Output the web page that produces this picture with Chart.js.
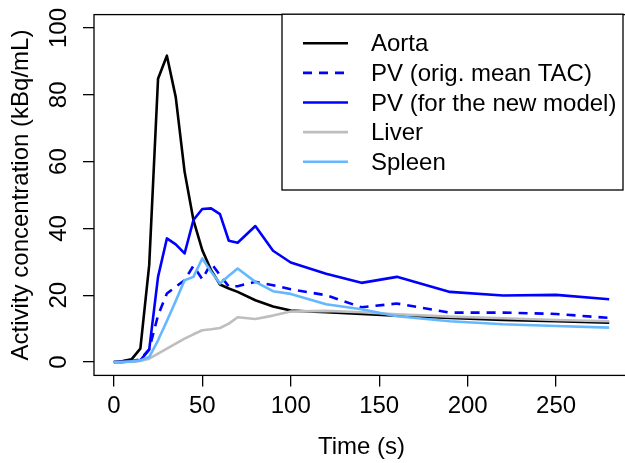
<!DOCTYPE html>
<html>
<head>
<meta charset="utf-8">
<script src="https://cdn.jsdelivr.net/npm/chart.js@4/dist/chart.umd.min.js"></script>
<style>
  html, body { margin: 0; padding: 0; background: #fff; overflow: hidden; width: 625px; height: 463px; }
  canvas { display: block; }
</style>
</head>
<body>
<canvas id="c" width="640" height="463"></canvas>
<script>
// ---- data ----
const times = [0, 5, 10, 15, 20, 25, 30, 35, 40, 45, 50, 55, 60, 65, 70, 80, 90, 100, 120, 140, 160, 190, 220, 250, 280];
const aorta = [0, 0.3, 0.8, 4, 29, 84.8, 91.7, 79.3, 57, 42.5, 33.5, 27.5, 23.2, 22, 21, 18.5, 16.6, 15.4, 14.9, 14.4, 13.9, 13.2, 12.6, 12.2, 11.8];
const pvOrig = [0, 0, 0.3, 0.8, 3.8, 14, 20.5, 22.5, 24.5, 28.8, 24.8, 29.6, 26, 22.6, 22.7, 24, 23, 21.8, 20, 16.4, 17.5, 14.8, 14.8, 14.4, 13.2];
const pvNew = [0, 0, 0.2, 0.5, 3.7, 25.5, 37, 35.2, 32.5, 42.5, 45.8, 46, 44.3, 36.3, 35.7, 40.7, 33.3, 29.8, 26.4, 23.7, 25.5, 21, 19.9, 20.1, 18.8];
const liver = [0, 0, 0.1, 0.3, 1, 2.5, 4, 5.5, 7, 8.3, 9.5, 9.8, 10.2, 11.5, 13.4, 12.9, 13.9, 15.1, 15.3, 14.9, 14.3, 13.6, 13.1, 12.6, 12.2];
const spleen = [0, 0, 0.2, 0.5, 1.5, 6.5, 12.3, 18.3, 24.5, 25.5, 31, 27, 23.5, 25.8, 28, 24, 21.2, 20.4, 17.3, 15.8, 13.7, 12.2, 11.3, 10.8, 10.3];
const seriesNames = ['Aorta', 'PV (orig. mean TAC)', 'PV (for the new model)', 'Liver', 'Spleen'];
const xTicks = [0, 50, 100, 150, 200, 250];
const yTicks = [0, 20, 40, 60, 80, 100];
const xLabel = 'Time (s)';
const yLabel = 'Activity concentration (kBq/mL)';

const FONT = 'Liberation Sans, Arial, Helvetica, sans-serif';
const toPts = arr => times.map((t, i) => ({ x: t, y: arr[i] }));

const styles = [
  { color: '#000000', dash: [] },
  { color: '#0000FF', dash: [9, 7] },
  { color: '#0000FF', dash: [] },
  { color: '#BEBEBE', dash: [] },
  { color: '#63B8FF', dash: [] }
];
const seriesData = [aorta, pvOrig, pvNew, liver, spleen];

const datasets = seriesData.map((arr, i) => ({
  label: seriesNames[i],
  data: toPts(arr),
  borderColor: styles[i].color,
  backgroundColor: styles[i].color,
  borderDash: styles[i].dash,
  borderWidth: 2.6,
  borderJoinStyle: 'round',
  pointRadius: 0,
  tension: 0,
  fill: false,
  order: 5 - i
}));

const framePlugin = {
  id: 'frameLegend',
  afterDatasetsDraw(chart) {
    const { ctx, chartArea: a } = chart;
    ctx.save();
    ctx.strokeStyle = '#000';
    ctx.lineWidth = 1.3;
    ctx.setLineDash([]);
    ctx.strokeRect(a.left, a.top, a.right - a.left, a.bottom - a.top);

    // legend box (top right, inside plot)
    const bx0 = 282, by0 = a.top - 0.4, bx1 = 623, by1 = 190;
    ctx.fillStyle = '#fff';
    ctx.fillRect(bx0, by0, bx1 - bx0, by1 - by0);
    ctx.strokeRect(bx0, by0, bx1 - bx0, by1 - by0);
    ctx.font = '24px ' + FONT;
    ctx.textBaseline = 'middle';
    ctx.textAlign = 'left';
    chart.data.datasets.forEach((ds, i) => {
      const y = 43.3 + i * 29.6;
      ctx.beginPath();
      ctx.strokeStyle = ds.borderColor;
      ctx.lineWidth = ds.borderWidth;
      ctx.setLineDash(ds.borderDash || []);
      ctx.moveTo(303, y);
      ctx.lineTo(348, y);
      ctx.stroke();
      ctx.setLineDash([]);
      ctx.fillStyle = '#000';
      ctx.fillText(ds.label, 371, y + 1.5);
    });
    ctx.restore();
  }
};

new Chart(document.getElementById('c'), {
  type: 'line',
  data: { datasets },
  options: {
    responsive: false,
    animation: false,
    devicePixelRatio: 1,
    layout: { padding: { top: 14.6, right: 11, bottom: 0, left: 0 } },
    plugins: { legend: { display: false }, tooltip: { enabled: false } },
    scales: {
      x: {
        type: 'linear',
        min: -11.2,
        max: 291.2,
        afterBuildTicks: s => { s.ticks = xTicks.map(v => ({ value: v })); },
        afterFit: s => { s.height = 87.6; s.paddingLeft = 0; s.paddingRight = 0; },
        grid: { drawOnChartArea: false, drawTicks: true, tickLength: 11, color: '#000', tickColor: '#000', lineWidth: 1.3 },
        border: { display: false },
        ticks: { autoSkip: false, maxRotation: 0, minRotation: 0, padding: 6, color: '#000', font: { family: FONT, size: 24 }, callback: v => String(v) },
        title: { display: true, text: xLabel, color: '#000', font: { family: FONT, size: 24 }, padding: { top: 0, bottom: 1 } }
      },
      y: {
        type: 'linear',
        min: -4,
        max: 104,
        afterBuildTicks: s => { s.ticks = yTicks.map(v => ({ value: v })); },
        afterFit: s => { s.width = 94; s.paddingTop = 0; s.paddingBottom = 0; },
        grid: { drawOnChartArea: false, drawTicks: true, tickLength: 11, color: '#000', tickColor: '#000', lineWidth: 1.3 },
        border: { display: false },
        ticks: { autoSkip: false, minRotation: 90, maxRotation: 90, crossAlign: 'center', padding: 4, color: '#000', font: { family: FONT, size: 24 }, callback: v => String(v) },
        title: { display: true, text: yLabel, color: '#000', font: { family: FONT, size: 24 }, padding: { top: 7, bottom: 0 } }
      }
    }
  },
  plugins: [framePlugin]
});
</script>
</body>
</html>
